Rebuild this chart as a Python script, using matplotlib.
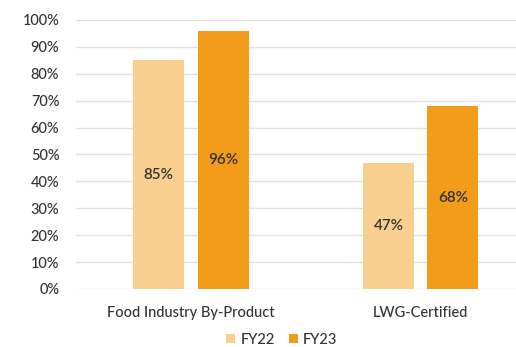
import matplotlib.pyplot as plt
import numpy as np

plt.rcParams['font.family'] = ['Lato', 'DejaVu Sans']

categories = ['Food Industry By-Product', 'LWG-Certified']
fy22 = [85, 47]
fy23 = [96, 68]
series_names = ['FY22', 'FY23']
yticks = [0, 10, 20, 30, 40, 50, 60, 70, 80, 90, 100]

c22 = '#F9CF8F'
c23 = '#F29C1A'
txt = '#333333'

fig = plt.figure(figsize=(5.16, 3.47), dpi=100)
ax = fig.add_axes([76 / 516, 1 - 289 / 347, (535.5 - 76) / 516, (289 - 20) / 347])

x = np.arange(len(categories))
w = 0.222
off = 0.14
b1 = ax.bar(x - off, fy22, w, color=c22, label=series_names[0], zorder=3)
b2 = ax.bar(x + off, fy23, w, color=c23, label=series_names[1], zorder=3)

for bars, vals in ((b1, fy22), (b2, fy23)):
    for b, v in zip(bars, vals):
        ax.text(b.get_x() + b.get_width() / 2, v / 2, f'{v}%', ha='center', va='center',
                fontsize=11, color=txt, fontweight='semibold', zorder=4)

ax.set_xlim(-0.5, 1.5)
ax.set_ylim(0, 100)
ax.set_yticks(yticks)
ax.set_yticklabels([f'{t}%' for t in yticks])
ax.set_xticks(x)
ax.set_xticklabels(categories)
ax.grid(axis='y', color='#e3e3e3', linewidth=1, zorder=0)
for s in ax.spines.values():
    s.set_visible(False)
ax.tick_params(length=0, colors=txt, labelsize=10.5)
ax.tick_params(axis='y', pad=12)
ax.tick_params(axis='x', pad=12)
for lab in ax.get_xticklabels() + ax.get_yticklabels():
    lab.set_fontweight('medium')

leg = fig.legend(handles=[b1, b2], labels=series_names, loc='center', bbox_to_anchor=(282 / 516, 1 - 340 / 347),
                 ncol=2, frameon=False, fontsize=10.5, handlelength=0.6, handleheight=0.6,
                 columnspacing=1.0, handletextpad=0.35, borderpad=0)
for t in leg.get_texts():
    t.set_color(txt)
    t.set_fontweight('medium')

fig.savefig('out.png', dpi=100)
